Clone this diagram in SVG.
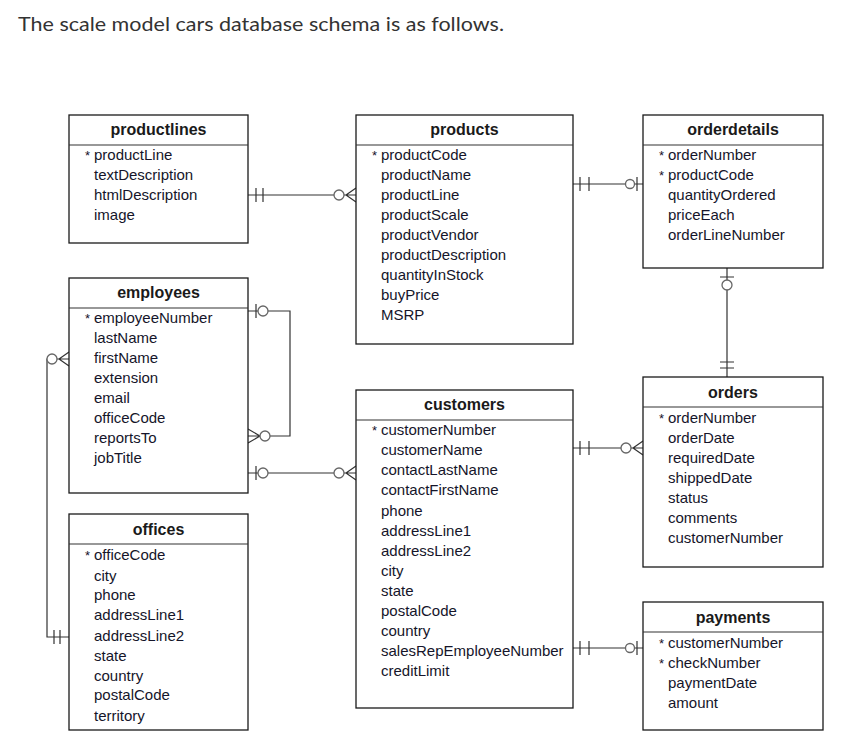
<svg xmlns="http://www.w3.org/2000/svg" width="866" height="738" viewBox="0 0 866 738">
<style>
.box{fill:#fff;stroke:#1a1a1a;stroke-width:1.3}
.hd{font-family:"Liberation Sans",Arial,sans-serif;font-size:16px;font-weight:bold;fill:#1a1a1a;text-anchor:middle}
.row{font-family:"Liberation Sans",Arial,sans-serif;font-size:15px;fill:#15152a}
.ast{font-family:"Liberation Sans",Arial,sans-serif;font-size:13px;fill:#15152a}
.ln{fill:none;stroke:#333;stroke-width:1.2}
.cir{fill:#fff;stroke:#666;stroke-width:1.3}
.title{font-family:Lato,"Open Sans",sans-serif;font-size:20px;fill:#333}
</style>
<rect width="866" height="738" fill="#fff"/>
<text class="title" x="18" y="31" textLength="486" lengthAdjust="spacingAndGlyphs">The scale model cars database schema is as follows.</text>

<g id="connectors">
  <!-- productlines - products -->
  <path class="ln" d="M248 195H356M256 188V202M263 188V202M346 195L356 188M346 195L356 202"/>
  <circle class="cir" cx="339" cy="195" r="5"/>
  <!-- products - orderdetails -->
  <path class="ln" d="M573 184H643M580 177V191M589 177V191M637 177V191"/>
  <circle class="cir" cx="630" cy="184" r="4.5"/>
  <!-- orderdetails - orders -->
  <path class="ln" d="M727 268V377M720 277H734M720 362H734M720 368H734"/>
  <circle class="cir" cx="727" cy="285" r="5"/>
  <!-- employees self reference -->
  <path class="ln" d="M248 311H290V436H248M256 304V318M260 436L248 429M260 436L248 443"/>
  <circle class="cir" cx="263" cy="311" r="5"/>
  <circle class="cir" cx="265" cy="436" r="5"/>
  <!-- employees - customers -->
  <path class="ln" d="M248 473H356M256 466V480M346 473L356 466M346 473L356 480"/>
  <circle class="cir" cx="263" cy="473" r="5"/>
  <circle class="cir" cx="339" cy="473" r="5"/>
  <!-- customers - orders -->
  <path class="ln" d="M573 448H643M580 441V455M589 441V455M633 448L643 441M633 448L643 455"/>
  <circle class="cir" cx="626" cy="448" r="5"/>
  <!-- customers - payments -->
  <path class="ln" d="M573 648H643M580 641V655M589 641V655M637 641V655"/>
  <circle class="cir" cx="630" cy="648" r="4.5"/>
  <!-- offices - employees -->
  <path class="ln" d="M69 637H47V359H69M54 630V644M60 630V644M59 359L69 352M59 359L69 366"/>
  <circle class="cir" cx="52" cy="359" r="5"/>
</g>

<g id="productlines">
  <rect class="box" x="69" y="115" width="179" height="128"/>
  <line class="ln" x1="69" y1="145" x2="248" y2="145" stroke="#1a1a1a"/>
  <text class="hd" x="158.5" y="135">productlines</text>
  <text class="ast" x="85" y="160">*</text>
  <text class="row" x="94" y="160">productLine</text>
  <text class="row" x="94" y="180">textDescription</text>
  <text class="row" x="94" y="200">htmlDescription</text>
  <text class="row" x="94" y="220">image</text>
</g>

<g id="products">
  <rect class="box" x="356" y="115" width="217" height="229"/>
  <line class="ln" x1="356" y1="145" x2="573" y2="145" stroke="#1a1a1a"/>
  <text class="hd" x="464.5" y="135">products</text>
  <text class="ast" x="372" y="160">*</text>
  <text class="row" x="381" y="160">productCode</text>
  <text class="row" x="381" y="180">productName</text>
  <text class="row" x="381" y="200">productLine</text>
  <text class="row" x="381" y="220">productScale</text>
  <text class="row" x="381" y="240">productVendor</text>
  <text class="row" x="381" y="260">productDescription</text>
  <text class="row" x="381" y="280">quantityInStock</text>
  <text class="row" x="381" y="300">buyPrice</text>
  <text class="row" x="381" y="320">MSRP</text>
</g>

<g id="orderdetails">
  <rect class="box" x="643" y="115" width="180" height="153"/>
  <line class="ln" x1="643" y1="145" x2="823" y2="145" stroke="#1a1a1a"/>
  <text class="hd" x="733" y="135">orderdetails</text>
  <text class="ast" x="659" y="160">*</text>
  <text class="row" x="668" y="160">orderNumber</text>
  <text class="ast" x="659" y="180">*</text>
  <text class="row" x="668" y="180">productCode</text>
  <text class="row" x="668" y="200">quantityOrdered</text>
  <text class="row" x="668" y="220">priceEach</text>
  <text class="row" x="668" y="240">orderLineNumber</text>
</g>

<g id="employees">
  <rect class="box" x="69" y="278" width="179" height="215"/>
  <line class="ln" x1="69" y1="308" x2="248" y2="308" stroke="#1a1a1a"/>
  <text class="hd" x="158.5" y="298">employees</text>
  <text class="ast" x="85" y="323">*</text>
  <text class="row" x="94" y="323">employeeNumber</text>
  <text class="row" x="94" y="343">lastName</text>
  <text class="row" x="94" y="363">firstName</text>
  <text class="row" x="94" y="383">extension</text>
  <text class="row" x="94" y="403">email</text>
  <text class="row" x="94" y="423">officeCode</text>
  <text class="row" x="94" y="443">reportsTo</text>
  <text class="row" x="94" y="463">jobTitle</text>
</g>

<g id="customers">
  <rect class="box" x="356" y="390" width="217" height="318"/>
  <line class="ln" x1="356" y1="420" x2="573" y2="420" stroke="#1a1a1a"/>
  <text class="hd" x="464.5" y="410">customers</text>
  <text class="ast" x="372" y="435">*</text>
  <text class="row" x="381" y="435">customerNumber</text>
  <text class="row" x="381" y="455">customerName</text>
  <text class="row" x="381" y="475">contactLastName</text>
  <text class="row" x="381" y="495">contactFirstName</text>
  <text class="row" x="381" y="516">phone</text>
  <text class="row" x="381" y="536">addressLine1</text>
  <text class="row" x="381" y="556">addressLine2</text>
  <text class="row" x="381" y="576">city</text>
  <text class="row" x="381" y="596">state</text>
  <text class="row" x="381" y="616">postalCode</text>
  <text class="row" x="381" y="636">country</text>
  <text class="row" x="381" y="656">salesRepEmployeeNumber</text>
  <text class="row" x="381" y="676">creditLimit</text>
</g>

<g id="orders">
  <rect class="box" x="643" y="377" width="180" height="190"/>
  <line class="ln" x1="643" y1="407" x2="823" y2="407" stroke="#1a1a1a"/>
  <text class="hd" x="733" y="398">orders</text>
  <text class="ast" x="659" y="423">*</text>
  <text class="row" x="668" y="423">orderNumber</text>
  <text class="row" x="668" y="443">orderDate</text>
  <text class="row" x="668" y="463">requiredDate</text>
  <text class="row" x="668" y="483">shippedDate</text>
  <text class="row" x="668" y="503">status</text>
  <text class="row" x="668" y="523">comments</text>
  <text class="row" x="668" y="543">customerNumber</text>
</g>

<g id="offices">
  <rect class="box" x="69" y="514" width="179" height="216"/>
  <line class="ln" x1="69" y1="544" x2="248" y2="544" stroke="#1a1a1a"/>
  <text class="hd" x="158.5" y="535">offices</text>
  <text class="ast" x="85" y="560">*</text>
  <text class="row" x="94" y="560">officeCode</text>
  <text class="row" x="94" y="581">city</text>
  <text class="row" x="94" y="600">phone</text>
  <text class="row" x="94" y="620">addressLine1</text>
  <text class="row" x="94" y="641">addressLine2</text>
  <text class="row" x="94" y="661">state</text>
  <text class="row" x="94" y="681">country</text>
  <text class="row" x="94" y="700">postalCode</text>
  <text class="row" x="94" y="721">territory</text>
</g>

<g id="payments">
  <rect class="box" x="643" y="602" width="180" height="128"/>
  <line class="ln" x1="643" y1="632" x2="823" y2="632" stroke="#1a1a1a"/>
  <text class="hd" x="733" y="623">payments</text>
  <text class="ast" x="659" y="648">*</text>
  <text class="row" x="668" y="648">customerNumber</text>
  <text class="ast" x="659" y="668">*</text>
  <text class="row" x="668" y="668">checkNumber</text>
  <text class="row" x="668" y="688">paymentDate</text>
  <text class="row" x="668" y="708">amount</text>
</g>
</svg>
